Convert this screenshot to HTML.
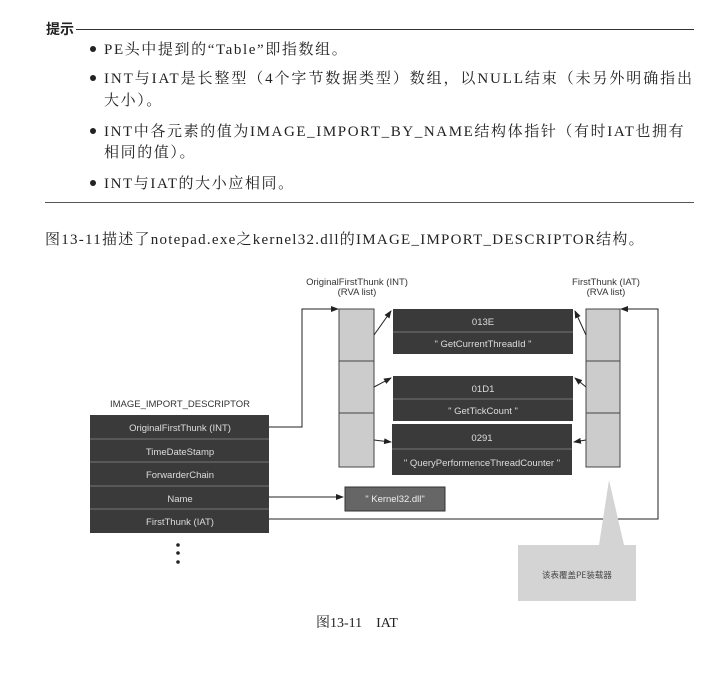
<!DOCTYPE html>
<html><head><meta charset="utf-8"><style>
body{margin:0;width:726px;height:675px;background:#fff;position:relative;overflow:hidden;font-family:"Liberation Serif","Noto Serif CJK SC",serif;color:#222}
.t{position:absolute;font-size:15px;letter-spacing:1.6px;white-space:nowrap}
.b{position:absolute;left:90px;width:6px;height:6px;border-radius:50%;background:#222}
</style></head><body>
<div class="t" style="left:46px;top:19px;font-family:'Noto Sans CJK SC',sans-serif;font-weight:bold;font-size:14px;letter-spacing:0">提示</div>
<div style="position:absolute;left:76px;top:29px;width:618px;height:1px;background:#333"></div>
<div class="b" style="top:46px"></div><div class="t" style="left:104px;top:38px">PE头中提到的“Table”即指数组。</div>
<div class="b" style="top:75px"></div><div class="t" style="left:104px;top:67px;letter-spacing:1.9px">INT与IAT是长整型（4个字节数据类型）数组，以NULL结束（未另外明确指出</div>
<div class="t" style="left:104px;top:89px">大小）。</div>
<div class="b" style="top:128px"></div><div class="t" style="left:104px;top:120px;letter-spacing:1.6px">INT中各元素的值为IMAGE_IMPORT_BY_NAME结构体指针（有时IAT也拥有</div>
<div class="t" style="left:104px;top:141px">相同的值）。</div>
<div class="b" style="top:180px"></div><div class="t" style="left:104px;top:172px">INT与IAT的大小应相同。</div>
<div style="position:absolute;left:45px;top:202px;width:649px;height:1px;background:#555"></div>
<div class="t" style="left:45px;top:228px;letter-spacing:1.25px">图13-11描述了notepad.exe之kernel32.dll的IMAGE_IMPORT_DESCRIPTOR结构。</div>
<div class="t" style="left:316px;top:612px;font-size:14px;letter-spacing:0">图13-11　IAT</div>
<svg width="726" height="675" style="position:absolute;left:0;top:0" font-family="Liberation Sans, sans-serif" font-size="9.5">
<defs><marker id="a" markerWidth="8" markerHeight="6" refX="7" refY="3" orient="auto"><path d="M0,0L8,3L0,6z" fill="#222"/></marker></defs>
<g fill="#333" text-anchor="middle">
<text x="357" y="285">OriginalFirstThunk  (INT)</text><text x="357" y="295">(RVA list)</text>
<text x="606" y="285">FirstThunk  (IAT)</text><text x="606" y="295">(RVA list)</text>
<text x="180" y="407">IMAGE_IMPORT_DESCRIPTOR</text></g>
<rect x="90" y="415" width="179" height="118" fill="#3a3a3a"/>
<g stroke="#777" stroke-width="1"><line x1="90" y1="439" x2="269" y2="439"/><line x1="90" y1="462" x2="269" y2="462"/><line x1="90" y1="486" x2="269" y2="486"/><line x1="90" y1="509" x2="269" y2="509"/></g>
<g fill="#ddd" text-anchor="middle"><text x="180" y="431">OriginalFirstThunk  (INT)</text><text x="180" y="455">TimeDateStamp</text><text x="180" y="478">ForwarderChain</text><text x="180" y="502">Name</text><text x="180" y="525">FirstThunk  (IAT)</text></g>
<g fill="#222"><circle cx="178" cy="545" r="1.8"/><circle cx="178" cy="553" r="1.8"/><circle cx="178" cy="562" r="1.8"/></g>
<g fill="#ccc" stroke="#444"><rect x="339" y="309" width="35" height="52"/><rect x="339" y="361" width="35" height="52"/><rect x="339" y="413" width="35" height="54"/>
<rect x="586" y="309" width="34" height="52"/><rect x="586" y="361" width="34" height="52"/><rect x="586" y="413" width="34" height="54"/></g>
<g fill="#3a3a3a"><rect x="393" y="309" width="180" height="45"/><rect x="393" y="376" width="180" height="45"/><rect x="392" y="424" width="180" height="51"/></g>
<g stroke="#777"><line x1="393" y1="332" x2="573" y2="332"/><line x1="393" y1="399" x2="573" y2="399"/><line x1="392" y1="449" x2="572" y2="449"/></g>
<g fill="#ddd" text-anchor="middle"><text x="483" y="325">013E</text><text x="483" y="347">" GetCurrentThreadId "</text><text x="483" y="392">01D1</text><text x="483" y="414">" GetTickCount "</text><text x="482" y="441">0291</text><text x="482" y="466">" QueryPerformenceThreadCounter "</text></g>
<rect x="345" y="487" width="100" height="24" fill="#666" stroke="#333"/><text x="395" y="502" fill="#eee" text-anchor="middle">" Kernel32.dll"</text>
<g stroke="#222" fill="none" stroke-width="1">
<polyline points="269,427 302,427 302,309 338,309" marker-end="url(#a)"/>
<polyline points="269,519 658,519 658,309 621,309" marker-end="url(#a)"/>
<line x1="269" y1="497" x2="343" y2="497" marker-end="url(#a)"/>
<line x1="374" y1="335" x2="391" y2="311" marker-end="url(#a)"/>
<line x1="374" y1="387" x2="391" y2="378" marker-end="url(#a)"/>
<line x1="374" y1="440" x2="391" y2="442" marker-end="url(#a)"/>
<line x1="586" y1="335" x2="575" y2="311" marker-end="url(#a)"/>
<line x1="586" y1="387" x2="575" y2="378" marker-end="url(#a)"/>
<line x1="586" y1="440" x2="574" y2="442" marker-end="url(#a)"/>
</g>
<polygon points="609,480 599,545 624,545" fill="#d4d4d4"/>
<rect x="518" y="545" width="118" height="56" fill="#d4d4d4"/>
<text x="577" y="578" fill="#444" text-anchor="middle" font-size="8.5" font-family="Noto Sans CJK SC, sans-serif">该表覆盖PE装载器</text>
</svg>
</body></html>
